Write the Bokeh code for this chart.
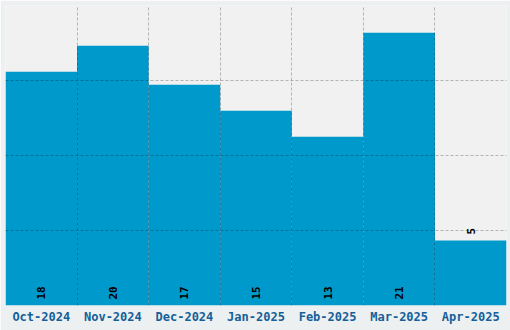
from bokeh.plotting import figure
from bokeh.models import ColumnDataSource, FixedTicker, Range1d
from bokeh.core.properties import value
from bokeh.embed import file_html
from bokeh.resources import INLINE
import math

months = ["Oct-2024", "Nov-2024", "Dec-2024", "Jan-2025", "Feb-2025", "Mar-2025", "Apr-2025"]
counts = [18, 20, 17, 15, 13, 21, 5]

n = len(months)
ymax = max(counts) * 1.1
left = list(range(n))
right = [i + 1 for i in range(n)]
centers = [i + 0.5 for i in range(n)]

p = figure(width=510, height=330, output_backend="svg", toolbar_location=None,
           x_range=Range1d(0, n), y_range=Range1d(0, ymax),
           min_border_left=5, min_border_right=4, min_border_top=5, min_border_bottom=25)
p.background_fill_color = "#f1f1f1"
p.border_fill_color = "#edf0f0"
p.outline_line_color = None

src = ColumnDataSource(dict(left=left, right=right, top=counts, x=centers))
p.quad(left="left", right="right", bottom=0, top="top", source=src,
       fill_color="#0099cc", line_color=None)

# labels: inside bottom for tall bars, above for short ones
lab_y = []
for c in counts:
    if c / ymax < 0.3:
        lab_y.append(c)
    else:
        lab_y.append(0)
lsrc = ColumnDataSource(dict(x=centers, y=lab_y, t=[str(c) for c in counts]))
p.text(x="x", y="y", text="t", source=lsrc, angle=math.pi / 2,
       text_font=value("DejaVu Sans Mono"), text_font_style="bold",
       text_font_size="11px", text_color="#000000",
       text_align="left", text_baseline="middle", x_offset=0, y_offset=-6)

p.xaxis.ticker = FixedTicker(ticks=centers)
p.xaxis.major_label_overrides = {c: m for c, m in zip(centers, months)}
p.xaxis.axis_line_color = None
p.xaxis.major_tick_line_color = None
p.xaxis.minor_tick_line_color = None
p.xaxis.major_tick_out = 0
p.xaxis.major_tick_in = 0
p.xaxis.minor_tick_out = 0
p.xaxis.major_label_standoff = 4
p.xaxis.major_label_text_font = "DejaVu Sans Mono"
p.xaxis.major_label_text_font_style = "bold"
p.xaxis.major_label_text_font_size = "12px"
p.xaxis.major_label_text_color = "#14609a"
p.yaxis.visible = False

p.xgrid.ticker = FixedTicker(ticks=right[:-1])
p.ygrid.ticker = FixedTicker(ticks=[ymax * k / 4 for k in (1, 2, 3)])
for g in (p.xgrid, p.ygrid):
    g.grid_line_color = "#000000"
    g.grid_line_alpha = 0.25
    g.grid_line_dash = "3 2"
    g.level = "overlay"

open("out.html", "w").write(file_html(p, INLINE))
